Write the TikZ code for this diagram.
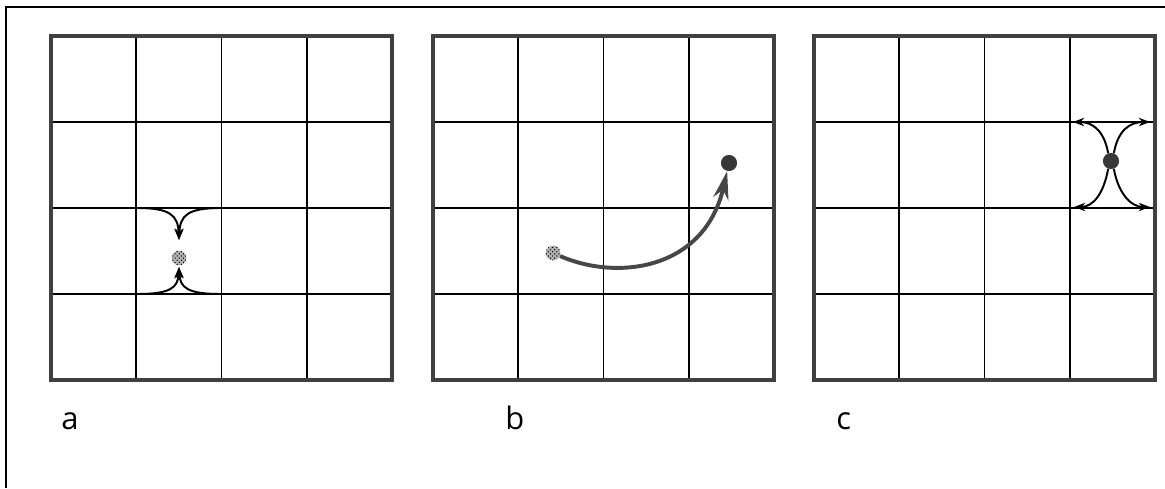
\documentclass[tikz,border=0pt]{standalone}
\usepackage{fontspec}
\setmainfont{Open Sans}
\usetikzlibrary{arrows.meta,patterns}

\tikzset{
  gridline/.style={line width=1.4pt},
  gridframe/.style={line width=2.6pt, draw=black!75},
  flow/.style={line width=1.4pt, -{Stealth[length=8pt,width=6pt]}},
  bigflow/.style={line width=2.8pt, draw=black!72, -{Stealth[length=20pt,width=11pt]}},
  startdot/.style={circle, minimum size=10.5pt, inner sep=0pt, preaction={fill=black!30}, pattern=crosshatch dots, pattern color=black},
  enddot/.style={circle, minimum size=11.5pt, inner sep=0pt, fill=black!78},
  panellabel/.style={font=\fontsize{22}{26}\selectfont, anchor=base west, inner sep=0pt}
}

\begin{document}
\begin{tikzpicture}[x=0.025cm, y=-0.025cm]
            \useasboundingbox (0,0) rectangle (1165,488);
            % Page frame
            \draw[line width=1.2pt] (6,488) -- (6,7) -- (1165,7);

            % Three 4x4 grids
            \foreach \gx in {51,433,814} {
              \foreach \i in {1,2,3} {
                \draw[gridline] (\gx+85.25*\i,36) -- (\gx+85.25*\i,380);
                \draw[gridline] (\gx,36+86*\i) -- (\gx+341,36+86*\i);
              }
              \draw[gridframe] (\gx,36) rectangle (\gx+341,380);
            }

            % Panel labels
            \node[panellabel] (labA) at (61,429) {a};
            \node[panellabel] (labB) at (505,429) {b};
            \node[panellabel] (labC) at (836,429) {c};

            % Panel a: converging onto the source
            \node[startdot] (srcA) at (179,258) {};
            \coordinate (aTL) at (137,208);
            \coordinate (aTR) at (221,208);
            \coordinate (aBL) at (137,294);
            \coordinate (aBR) at (221,294);
            \coordinate (aTop) at (179,240);
            \coordinate (aBot) at (179,267);
            \draw[flow] (aTL) .. controls (170,208) and (178,215) .. (aTop);
            \draw[flow] (aTR) .. controls (188,208) and (180,215) .. (aTop);
            \draw[flow] (aBL) .. controls (170,294) and (178,288) .. (aBot);
            \draw[flow] (aBR) .. controls (188,294) and (180,288) .. (aBot);

            % Panel b: moving from source to sink
            \node[startdot] (srcB) at (553,253) {};
            \node[enddot] (dstB) at (729,163) {};
            \draw[bigflow] (srcB) .. controls (620,282) and (705,268) .. (dstB);

            % Panel c: spreading out from the sink
            \node[enddot] (dstC) at (1111,161) {};
            \coordinate (cTL) at (1073,122);
            \coordinate (cTR) at (1150,122);
            \coordinate (cBL) at (1074,207);
            \coordinate (cBR) at (1150,207);
            \draw[flow] (dstC.110) .. controls (1104,130) and (1092,122) .. (cTL);
            \draw[flow] (dstC.70) .. controls (1118,130) and (1130,122) .. (cTR);
            \draw[flow] (dstC.250) .. controls (1104,192) and (1094,207) .. (cBL);
            \draw[flow] (dstC.290) .. controls (1118,192) and (1130,207) .. (cBR);
\end{tikzpicture}
\end{document}
